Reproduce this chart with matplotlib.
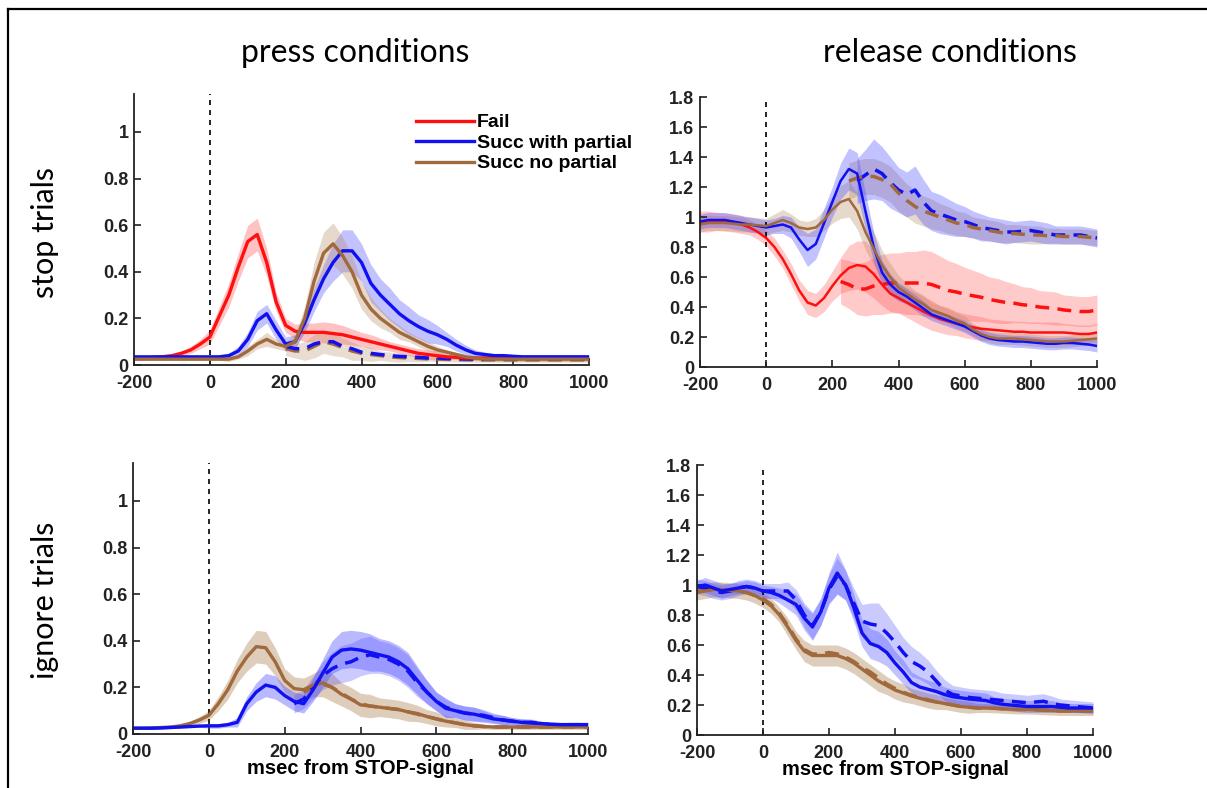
import matplotlib
matplotlib.use('Agg')
import matplotlib.pyplot as plt
from matplotlib.lines import Line2D
import numpy as np

nan = np.nan

# %% data: time grid (ms from STOP-signal), 25 ms steps
t = np.arange(-200, 1001, 25)

# press conditions, stop trials
ps_fail = [.03, .03, .032, .035, .04, .05, .065, .09, .12, .21, .30, .42, .53, .56, .44, .27, .17, .145, .14, .14,
           .14, .135, .13, .12, .11, .10, .09, .08, .07, .06, .05, .045, .04, .035, .033, .03, .03, .03, .03, .03,
           .03, .03, .03, .03, .03, .03, .03, .03, .03]
ps_fail_err = [.01, .01, .01, .01, .01, .01, .015, .02, .03, .04, .05, .06, .07, .07, .06, .04, .03, .03, .04, .04,
               .045, .045, .04, .035, .03, .03, .025, .02, .02, .02, .02, .02, .02, .01, .01, .01, .01, .01, .01, .01,
               .01, .01, .01, .01, .01, .01, .01, .01, .01]
ps_part = [.035, .035, .035, .035, .035, .035, .035, .035, .035, .035, .04, .06, .11, .19, .22, .15, .09, .10, .18, .28,
           .37, .44, .49, .49, .44, .35, .30, .26, .22, .19, .165, .145, .13, .11, .085, .065, .05, .045, .04, .04,
           .037, .035, .035, .035, .035, .035, .035, .035, .035]
ps_part_err = [.005, .005, .005, .005, .005, .005, .005, .005, .005, .01, .01, .02, .03, .04, .04, .04, .03, .03, .04, .05,
               .06, .08, .09, .09, .08, .08, .07, .07, .06, .06, .05, .05, .04, .03, .025, .02, .015, .01, .01, .01,
               .01, .01, .01, .01, .01, .01, .01, .01, .01]
ps_nopart = [.025, .025, .025, .025, .025, .025, .025, .025, .025, .025, .025, .035, .06, .09, .11, .09, .08, .10, .20, .36,
             .48, .52, .47, .40, .30, .24, .20, .17, .14, .12, .10, .08, .065, .055, .045, .035, .03, .025, .025, .025,
             .025, .025, .025, .025, .025, .025, .025, .025, .025]
ps_nopart_err = [.005, .005, .005, .005, .005, .005, .005, .005, .005, .005, .01, .01, .02, .02, .03, .02, .02, .03, .05, .08,
                 .09, .09, .08, .07, .06, .05, .04, .03, .03, .02, .02, .02, .015, .01, .01, .01, .01, .01, .01, .01,
                 .01, .01, .01, .01, .01, .01, .01, .01, .01]
ps_part_d = [nan] * 16 + [.08, .07, .07, .09, .10, .10, .08, .07, .055, .05, .045, .04, .037, .035, .033, .03, .03, .028,
                          .027, .026, .025, .025, .025, .025, .025, .025, .025, .025, .025, .025, .025, .025, .025]
ps_nopart_d = [nan] * 16 + [.07, .06, .06, .08, .10, .09, .075, .06, .05, .045, .04, .035, .032, .03, .028, .026, .025,
                            .024, .023, .022, .022, .022, .022, .022, .022, .022, .022, .022, .022, .022, .022, .022, .022]
ps_d_err = [nan] * 16 + [.03, .03, .04, .05, .05, .05, .04, .04, .03, .03, .02, .02, .02, .015, .015, .01, .01, .01,
                         .01, .01, .01, .01, .01, .01, .01, .01, .01, .01, .01, .01, .01, .01, .01]

# release conditions, stop trials
rs_fail = [.97, .97, .97, .965, .96, .95, .93, .90, .86, .80, .72, .62, .51, .43, .41, .46, .54, .61, .66, .68,
           .67, .62, .55, .49, .46, .43, .40, .37, .345, .32, .305, .29, .275, .265, .255, .25, .245, .24, .235, .235,
           .23, .23, .23, .23, .23, .225, .22, .22, .23]
rs_fail_err = [.07, .07, .06, .06, .06, .06, .05, .05, .05, .06, .06, .07, .07, .08, .08, .09, .10, .12, .15, .16,
               .17, .16, .14, .12, .10, .10, .10, .10, .10, .09, .09, .08, .08, .08, .08, .07, .07, .07, .07, .07,
               .07, .07, .07, .07, .06, .06, .06, .06, .06]
rs_fail_d = [nan] * 17 + [.57, .55, .52, .52, .54, .55, .56, .56, .56, .56, .56, .55, .53, .51, .50, .485, .475, .465,
                          .45, .44, .43, .425, .415, .41, .40, .395, .39, .38, .375, .37, .37, .38]
rs_fail_d_err = [nan] * 17 + [.15, .16, .17, .18, .19, .20, .20, .20, .21, .21, .22, .22, .21, .20, .19, .18, .17, .16,
                              .15, .15, .14, .13, .12, .12, .11, .11, .11, .10, .10, .10, .10, .10]
rs_part = [.97, .98, .98, .98, .97, .96, .95, .94, .93, .94, .95, .93, .85, .78, .82, .96, 1.10, 1.24, 1.32, 1.29,
           1.04, .80, .63, .55, .50, .47, .43, .39, .35, .33, .31, .29, .27, .24, .21, .19, .18, .175, .17, .17,
           .165, .16, .155, .155, .16, .16, .155, .15, .14]
rs_part_err = [.05, .05, .05, .05, .05, .05, .05, .05, .05, .05, .06, .07, .08, .11, .10, .10, .10, .12, .14, .14,
               .12, .10, .08, .07, .06, .05, .05, .05, .04, .04, .04, .04, .04, .04, .04, .04, .04, .04, .04, .04,
               .04, .04, .04, .04, .04, .04, .04, .04, .04]
rs_nopart = [.95, .96, .96, .96, .955, .95, .95, .945, .94, .96, .98, .96, .93, .92, .93, .98, 1.05, 1.10, 1.12, 1.04,
             .90, .79, .68, .60, .53, .49, .45, .42, .38, .36, .34, .31, .29, .25, .22, .20, .19, .19, .19, .185,
             .18, .175, .17, .17, .17, .175, .18, .185, .19]
rs_nopart_err = [.05, .05, .05, .05, .05, .05, .05, .05, .05, .06, .07, .06, .05, .05, .06, .07, .09, .11, .12, .12,
                 .12, .11, .10, .09, .08, .07, .06, .06, .05, .05, .05, .05, .05, .04, .04, .04, .04, .04, .04, .04,
                 .04, .04, .04, .04, .04, .04, .04, .04, .04]
rs_part_d = [nan] * 19 + [1.24, 1.28, 1.32, 1.29, 1.23, 1.18, 1.15, 1.18, 1.10, 1.04, 1.02, 1.00, .98, .97, .95, .93,
                          .92, .91, .90, .90, .905, .91, .90, .89, .88, .88, .88, .88, .87, .86]
rs_part_d_err = [nan] * 19 + [.15, .17, .20, .18, .17, .15, .15, .16, .15, .13, .13, .12, .11, .10, .09, .09, .08, .08,
                              .08, .07, .07, .07, .07, .07, .06, .06, .06, .06, .06, .06]
rs_nopart_d = [nan] * 18 + [1.24, 1.26, 1.27, 1.27, 1.25, 1.22, 1.16, 1.11, 1.07, 1.04, 1.02, 1.00, .98, .96, .95, .93,
                            .92, .91, .90, .89, .89, .885, .88, .88, .875, .875, .87, .87, .87, .865, .86]
rs_nopart_d_err = [nan] * 18 + [.12, .12, .12, .12, .12, .12, .12, .11, .11, .10, .10, .09, .09, .08, .08, .07, .07,
                                .07, .07, .06, .06, .06, .06, .06, .05, .05, .05, .05, .05, .05, .05]

# press conditions, ignore trials
pi_part = [.025, .025, .025, .026, .028, .03, .032, .034, .035, .035, .04, .05, .13, .18, .21, .20, .165, .14, .13, .19,
           .26, .33, .36, .365, .36, .35, .34, .33, .31, .28, .23, .18, .14, .11, .10, .09, .085, .075, .065, .06,
           .055, .05, .047, .045, .042, .04, .04, .04, .04]
pi_part_err = [.005, .005, .005, .005, .005, .005, .005, .005, .01, .01, .01, .02, .03, .04, .05, .05, .04, .04, .04, .05,
               .06, .07, .08, .08, .08, .08, .07, .07, .07, .07, .06, .05, .04, .04, .03, .03, .03, .025, .02, .02,
               .015, .015, .015, .01, .01, .01, .01, .01, .01]
pi_nopart = [.025, .025, .026, .028, .03, .035, .045, .06, .08, .13, .19, .27, .33, .375, .37, .31, .23, .195, .19, .21,
             .22, .20, .17, .15, .125, .12, .115, .11, .105, .095, .088, .075, .065, .055, .048, .04, .035, .032, .03, .03,
             .03, .03, .03, .03, .03, .03, .03, .03, .03]
pi_nopart_err = [.005, .005, .005, .005, .005, .01, .01, .015, .02, .03, .04, .05, .06, .07, .07, .06, .05, .05, .05, .05,
                 .06, .06, .05, .05, .05, .05, .04, .04, .04, .04, .035, .03, .03, .025, .02, .02, .015, .01, .01, .01,
                 .01, .01, .01, .01, .01, .01, .01, .01, .01]
pi_part_d = [nan] * 17 + [.13, .15, .20, .25, .28, .30, .31, .33, .34, .33, .32, .30, .27, .22, .18, .14, .115, .10,
                          .09, .085, .08, .07, .06, .055, .05, .05, .045, .04, .04, .04, .04, .04]
pi_nopart_d = [nan] * 18 + [.18, .20, .215, .20, .175, .15, .13, .12, .115, .11, .105, .095, .085, .075, .065, .055,
                            .048, .04, .035, .032, .03, .03, .03, .03, .03, .03, .03, .03, .03, .03, .03]

# release conditions, ignore trials
ri_part = [.99, 1.00, .98, .96, .97, .98, .99, .98, .96, .95, .93, .90, .87, .78, .72, .82, .98, 1.08, 1.00, .85,
           .68, .61, .59, .55, .48, .42, .35, .32, .305, .29, .27, .255, .248, .24, .235, .23, .215, .205, .20, .195,
           .19, .19, .19, .19, .185, .18, .18, .18, .18]
ri_part_err = [.04, .05, .05, .05, .04, .04, .04, .04, .04, .04, .05, .06, .07, .08, .09, .09, .10, .14, .10, .09,
               .09, .10, .10, .09, .08, .08, .07, .07, .06, .06, .05, .05, .05, .05, .05, .05, .04, .04, .04, .04,
               .04, .04, .04, .04, .03, .03, .03, .03, .03]
ri_part_d = [.99, .98, .96, .95, .96, .98, .99, .98, .96, .96, .96, .96, .90, .80, .73, .82, .97, 1.06, 1.00, .88,
             .76, .74, .73, .68, .62, .55, .49, .46, .42, .36, .30, .27, .26, .25, .245, .24, .235, .23, .225, .22,
             .215, .22, .225, .21, .20, .195, .19, .185, .18]
ri_part_d_err = [.05, .05, .05, .05, .05, .05, .05, .05, .05, .05, .05, .06, .07, .08, .09, .09, .10, .12, .10, .10,
                 .11, .14, .15, .13, .11, .10, .10, .09, .08, .07, .07, .06, .06, .06, .06, .06, .06, .05, .05, .05,
                 .05, .05, .05, .05, .04, .04, .04, .04, .04]
ri_nopart = [.95, .96, .97, .97, .965, .96, .95, .93, .90, .86, .80, .72, .63, .56, .53, .53, .53, .53, .51, .48,
             .44, .40, .36, .33, .30, .28, .26, .245, .23, .22, .21, .20, .19, .185, .18, .18, .178, .175, .172, .17,
             .17, .168, .165, .163, .16, .16, .16, .16, .16]
ri_nopart_err = [.05, .05, .05, .05, .05, .05, .05, .05, .05, .05, .05, .06, .06, .07, .07, .07, .07, .07, .07, .07,
                 .07, .07, .07, .06, .06, .06, .05, .05, .05, .05, .04, .04, .04, .04, .03, .03, .03, .03, .03, .03,
                 .03, .03, .03, .03, .03, .03, .03, .03, .03]
ri_nopart_d = [.97, .97, .96, .96, .96, .96, .95, .93, .91, .87, .81, .73, .64, .57, .54, .54, .55, .54, .52, .49,
               .45, .42, .38, .34, .31, .285, .265, .25, .235, .22, .21, .20, .19, .185, .18, .18, .178, .175, .172, .17,
               .17, .168, .165, .163, .16, .16, .16, .16, .16]

labels = ['Fail', 'Succ with partial', 'Succ no partial']

# %% style
RED, BLUE, BROWN = '#ff1010', '#1010f0', '#a06a3c'
RED_F, BLUE_F, BROWN_F = '#ff5050', '#5050ff', '#b8906a'

W, H = 1207, 788
plt.rcParams['font.family'] = ['Liberation Sans', 'DejaVu Sans']
plt.rcParams['axes.unicode_minus'] = False
fig = plt.figure(figsize=(W / 100, H / 100), dpi=100)


def px_axes(left, top, right, bottom):
    return fig.add_axes([left / W, 1 - bottom / H, (right - left) / W, (bottom - top) / H])


def band(ax, y, err, fc, alpha=0.35):
    y, err = np.asarray(y, float), np.asarray(err, float)
    ax.fill_between(t, y - err, y + err, color=fc, alpha=alpha, lw=0)


def line(ax, y, c, lw, dashed=False):
    if dashed:
        ax.plot(t, y, color=c, lw=lw + 0.3, ls=(0, (4, 2.4)))
    else:
        ax.plot(t, y, color=c, lw=lw)


def style(ax, ymax, yticks, xlabel=False):
    ax.set_xlim(-200, 1000)
    ax.set_ylim(0, ymax)
    ax.set_xticks(range(-200, 1001, 200))
    ax.set_yticks(yticks)
    ax.set_yticklabels(['%g' % v for v in yticks])
    for s in ['top', 'right']:
        ax.spines[s].set_visible(False)
    for s in ['left', 'bottom']:
        ax.spines[s].set_linewidth(1.3)
        ax.spines[s].set_color('#222222')
    ax.tick_params(direction='in', length=5, width=1.2, labelsize=13, colors='#222222')
    ax.tick_params(axis='x', pad=7)
    ax.tick_params(axis='y', pad=4)
    for lab in ax.get_xticklabels() + ax.get_yticklabels():
        lab.set_fontweight('bold')
    ax.axvline(0, color='k', lw=1.2, ls=(0, (3, 3)), zorder=1)
    if xlabel:
        ax.set_xlabel('msec from STOP-signal', fontsize=14.5, fontweight='bold', labelpad=-1)


y_left = [0, 0.2, 0.4, 0.6, 0.8, 1]
y_right = [0, 0.2, 0.4, 0.6, 0.8, 1, 1.2, 1.4, 1.6, 1.8]

# press / stop
ax = px_axes(134, 94, 589, 365)
band(ax, ps_fail, ps_fail_err, RED_F)
band(ax, ps_part, ps_part_err, BLUE_F)
band(ax, ps_nopart, ps_nopart_err, BROWN_F)
band(ax, ps_nopart_d, ps_d_err, BROWN_F, 0.3)
line(ax, ps_nopart_d, BROWN, 2.2, True)
line(ax, ps_part_d, BLUE, 2.2, True)
h1, = ax.plot(t, ps_fail, color=RED, lw=2.4)
h2, = ax.plot(t, ps_part, color=BLUE, lw=2.4)
h3, = ax.plot(t, ps_nopart, color=BROWN, lw=2.4)
style(ax, 1.163, y_left)
ax.legend([h1, h2, h3], labels, loc='upper left', bbox_to_anchor=(406 / W, 1 - 104 / H),
          bbox_transform=fig.transFigure, frameon=False, handlelength=3.0, handletextpad=0.15,
          labelspacing=0.15, borderpad=0, prop={'weight': 'bold', 'size': 14})

# release / stop
ax = px_axes(700, 97, 1097, 367)
band(ax, rs_fail, rs_fail_err, RED_F, 0.3)
band(ax, rs_fail_d, rs_fail_d_err, RED_F, 0.3)
band(ax, rs_nopart, rs_nopart_err, BROWN_F, 0.35)
band(ax, rs_nopart_d, rs_nopart_d_err, BROWN_F, 0.35)
band(ax, rs_part, rs_part_err, BLUE_F, 0.35)
band(ax, rs_part_d, rs_part_d_err, BLUE_F, 0.35)
line(ax, rs_fail_d, RED, 2.2, True)
line(ax, rs_part_d, BLUE, 2.2, True)
line(ax, rs_nopart_d, BROWN, 2.2, True)
line(ax, rs_fail, RED, 1.8)
line(ax, rs_part, BLUE, 1.8)
line(ax, rs_nopart, BROWN, 1.8)
style(ax, 1.8, y_right)

# press / ignore
ax = px_axes(133, 463, 588, 734)
band(ax, pi_nopart, pi_nopart_err, BROWN_F, 0.45)
band(ax, pi_part, pi_part_err, BLUE_F, 0.4)
band(ax, pi_part_d, pi_part_err, BLUE_F, 0.3)
line(ax, pi_nopart_d, BROWN, 2.2, True)
line(ax, pi_part_d, BLUE, 2.2, True)
line(ax, pi_nopart, BROWN, 2.4)
line(ax, pi_part, BLUE, 2.4)
style(ax, 1.163, y_left, xlabel=True)

# release / ignore
ax = px_axes(697, 465, 1093, 735)
band(ax, ri_nopart, ri_nopart_err, BROWN_F, 0.45)
band(ax, ri_part, ri_part_err, BLUE_F, 0.35)
band(ax, ri_part_d, ri_part_d_err, BLUE_F, 0.3)
line(ax, ri_nopart_d, BROWN, 2.2, True)
line(ax, ri_part_d, BLUE, 2.2, True)
line(ax, ri_nopart, BROWN, 2.4)
line(ax, ri_part, BLUE, 2.4)
style(ax, 1.8, y_right, xlabel=True)

# titles and row labels
tfont = dict(family=['Lato', 'DejaVu Sans'], fontsize=23)
rfont = dict(family=['Lato', 'DejaVu Sans'], fontsize=22)
fig.text(355 / W, 1 - 53 / H, 'press conditions', ha='center', va='center', **tfont)
fig.text(950 / W, 1 - 53 / H, 'release conditions', ha='center', va='center', **tfont)
fig.text(45 / W, 1 - 232 / H, 'stop trials', ha='center', va='center', rotation=90, **rfont)
fig.text(45 / W, 1 - 600 / H, 'ignore trials', ha='center', va='center', rotation=90, **rfont)

# outer frame
fig.add_artist(Line2D([8 / W, 1], [1 - 9 / H] * 2, transform=fig.transFigure, color='k', lw=1.6))
fig.add_artist(Line2D([8 / W] * 2, [0, 1 - 9 / H], transform=fig.transFigure, color='k', lw=1.6))

fig.savefig('out.png', dpi=100)
